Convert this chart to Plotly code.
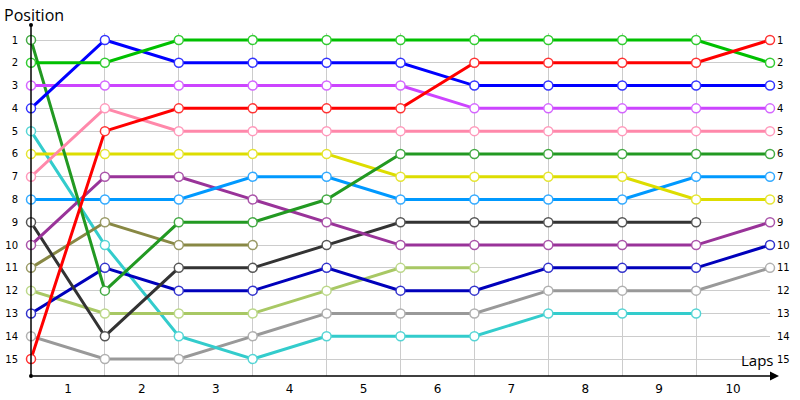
import plotly.graph_objects as go

lap_labels = ["1", "2", "3", "4", "5", "6", "7", "8", "9", "10"]
positions = list(range(1, 16))

turquoise = [5, 10, 14, 15, 14, 14, 14, 13, 13, 13]
gray = [14, 15, 15, 14, 13, 13, 13, 12, 12, 12, 11]
light_green = [12, 13, 13, 13, 12, 11, 11]
navy = [13, 11, 12, 12, 11, 12, 12, 11, 11, 11, 10]
olive = [11, 9, 10, 10]
black = [9, 14, 11, 11, 10, 9, 9, 9, 9, 9]
purple = [10, 7, 7, 8, 9, 10, 10, 10, 10, 10, 9]
light_blue = [8, 8, 8, 7, 7, 8, 8, 8, 8, 7, 7]
yellow = [6, 6, 6, 6, 6, 7, 7, 7, 7, 8, 8]
dark_green = [1, 12, 9, 9, 8, 6, 6, 6, 6, 6, 6]
pink = [7, 4, 5, 5, 5, 5, 5, 5, 5, 5, 5]
violet = [3, 3, 3, 3, 3, 3, 4, 4, 4, 4, 4]
blue = [4, 1, 2, 2, 2, 2, 3, 3, 3, 3, 3]
green = [2, 2, 1, 1, 1, 1, 1, 1, 1, 1, 2]
red = [15, 5, 4, 4, 4, 4, 2, 2, 2, 2, 1]

series = [
    (gray, "#999999", "#b0b0b0"),
    (turquoise, "#33cccc", "#55d5d5"),
    (light_green, "#a8c864", "#bcd88a"),
    (navy, "#0000bb", "#3333cc"),
    (olive, "#888844", "#9a9a66"),
    (black, "#333333", "#555555"),
    (purple, "#993399", "#aa55aa"),
    (light_blue, "#0099ff", "#33aaff"),
    (yellow, "#dddd00", "#e5e533"),
    (dark_green, "#229922", "#44aa44"),
    (pink, "#ff88aa", "#ff99bb"),
    (violet, "#cc44ff", "#d466ff"),
    (blue, "#0000ff", "#3333ff"),
    (green, "#00c000", "#33cc33"),
    (red, "#ff0000", "#ff3333"),
]

fig = go.Figure()
for vals, col, mcol in series:
    fig.add_trace(go.Scatter(
        x=list(range(len(vals))), y=vals, mode="lines+markers",
        line=dict(color=col, width=3),
        marker=dict(symbol="circle", size=9, color="white",
                    line=dict(color=mcol, width=1.5)),
        cliponaxis=False, showlegend=False, hoverinfo="skip"))

# dummy traces to activate right y axis and lap label axis
fig.add_trace(go.Scatter(x=[0], y=[1], yaxis="y2", mode="markers",
                         marker=dict(opacity=0), showlegend=False, hoverinfo="skip"))
fig.add_trace(go.Scatter(x=[0.5], y=[1], xaxis="x2", mode="markers",
                         marker=dict(opacity=0), showlegend=False, hoverinfo="skip"))

yrange = [15.746, 0.693]
tickfont = dict(family="DejaVu Sans", size=10, color="#000000")
PW, PH = 739, 343

fig.update_layout(
    width=800, height=400,
    margin=dict(l=31, r=30, t=33, b=24),
    paper_bgcolor="white", plot_bgcolor="white",
    xaxis=dict(range=[0, 10], tickvals=list(range(11)), showticklabels=False,
               showgrid=True, gridcolor="#cccccc", gridwidth=1,
               zeroline=False, showline=False, ticks="", automargin=False),
    xaxis2=dict(range=[0, 10], overlaying="x", side="bottom", anchor="y",
                tickvals=[i + 0.5 for i in range(10)], ticktext=lap_labels,
                showgrid=False, zeroline=False, showline=False, ticks="",
                ticklabelstandoff=4, automargin=False,
                tickfont=dict(family="DejaVu Sans", size=12, color="#000000")),
    yaxis=dict(range=yrange, tickvals=positions, ticktext=[str(p) for p in positions],
               showgrid=True, gridcolor="#cccccc", gridwidth=1,
               zeroline=False, showline=False, ticks="", automargin=False,
               ticklabelstandoff=12, tickfont=tickfont),
    yaxis2=dict(range=yrange, overlaying="y", side="right", anchor="x",
                tickvals=positions, ticktext=[str(p) for p in positions],
                showgrid=False, zeroline=False, showline=False, ticks="",
                ticklabelstandoff=6, tickfont=tickfont, automargin=False),
    shapes=[
        dict(type="line", xref="paper", yref="paper", x0=0, x1=0, y0=0, y1=1 + 8 / PH,
             line=dict(color="black", width=1.5)),
        dict(type="circle", xref="paper", yref="paper",
             x0=-2 / PW, x1=2 / PW, y0=1 + 6 / PH, y1=1 + 10 / PH,
             fillcolor="black", line=dict(color="black", width=0)),
        dict(type="circle", xref="paper", yref="paper",
             x0=-2 / PW, x1=2 / PW, y0=-2 / PH, y1=2 / PH,
             fillcolor="black", line=dict(color="black", width=0)),
    ],
    annotations=[
        dict(xref="x domain", yref="y domain", axref="x domain", ayref="y domain",
             x=1 + 9 / PW, y=0, ax=0, ay=0, text="", showarrow=True,
             arrowhead=2, arrowsize=1.2, arrowwidth=1.5, arrowcolor="black"),
        dict(xref="paper", yref="paper", x=-29 / PW, y=1 + 5 / PH,
             xanchor="left", yanchor="bottom", text="Position", showarrow=False,
             font=dict(family="Open Sans", size=16, color="#000000")),
        dict(xref="paper", yref="paper", x=1 + 6 / PW, y=0 + 4 / PH,
             xanchor="right", yanchor="bottom", text="Laps", showarrow=False,
             font=dict(family="Open Sans", size=15, color="#000000")),
    ],
)

fig.write_html("out.html", config={"displayModeBar": False},
               post_script="document.body.style.margin='0';")
